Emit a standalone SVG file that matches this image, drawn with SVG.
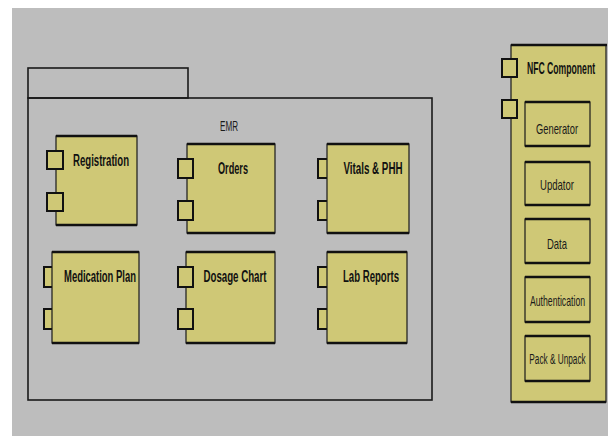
<svg xmlns="http://www.w3.org/2000/svg" width="608" height="436" viewBox="0 0 608 436">
<style>
.bg{fill:#bdbdbd}
.pkg{fill:none;stroke:#1a1a1a;stroke-width:1.6}
.box{fill:#cfc876;stroke:#1a1a1a;stroke-width:1.2}
.edge{stroke:#111;stroke-width:2.6;fill:none}
.port{fill:#cfc876;stroke:#111;stroke-width:2}
.lbl{font-family:"Liberation Sans",Arial,sans-serif;font-size:16px;font-weight:bold;fill:#111;text-anchor:middle}
.ilbl{font-family:"Liberation Sans",Arial,sans-serif;font-size:15px;fill:#1a1a1a;text-anchor:middle}
</style>
<rect x="0" y="0" width="608" height="436" fill="#ffffff"/>
<rect class="bg" x="12" y="8" width="596" height="428"/>

<g id="emr">
  <rect class="pkg" x="28" y="68" width="160" height="30"/>
  <rect class="pkg" x="28" y="98" width="404" height="302"/>
  <text class="ilbl" x="229" y="131" textLength="18" lengthAdjust="spacingAndGlyphs">EMR</text>
</g>

<g id="registration">
  <rect class="box" x="56" y="136" width="81" height="89"/>
  <line class="edge" x1="56" y1="136" x2="137" y2="136"/>
  <line class="edge" x1="56" y1="225" x2="137" y2="225"/>
  <rect class="port" x="47" y="151" width="16" height="18"/>
  <rect class="port" x="47" y="193" width="16" height="18"/>
  <text class="lbl" x="101" y="166" textLength="56" lengthAdjust="spacingAndGlyphs">Registration</text>
</g>

<g id="orders">
  <rect class="box" x="187" y="144" width="88" height="89"/>
  <line class="edge" x1="187" y1="144" x2="275" y2="144"/>
  <line class="edge" x1="187" y1="233" x2="275" y2="233"/>
  <rect class="port" x="178" y="159" width="15" height="19"/>
  <rect class="port" x="178" y="201" width="15" height="19"/>
  <text class="lbl" x="233" y="174" textLength="30" lengthAdjust="spacingAndGlyphs">Orders</text>
</g>

<g id="vitals">
  <rect class="port" x="318" y="159" width="16" height="19"/>
  <rect class="port" x="318" y="201" width="16" height="19"/>
  <rect class="box" x="327" y="144" width="82" height="89"/>
  <line class="edge" x1="327" y1="144" x2="409" y2="144"/>
  <line class="edge" x1="327" y1="233" x2="409" y2="233"/>
  <text class="lbl" x="373" y="174" textLength="59" lengthAdjust="spacingAndGlyphs">Vitals &amp; PHH</text>
</g>

<g id="medication-plan">
  <rect class="port" x="44" y="267" width="15" height="20"/>
  <rect class="port" x="44" y="309" width="15" height="20"/>
  <rect class="box" x="52" y="252" width="87" height="91"/>
  <line class="edge" x1="52" y1="252" x2="139" y2="252"/>
  <line class="edge" x1="52" y1="343" x2="139" y2="343"/>
  <text class="lbl" x="100" y="282" textLength="72" lengthAdjust="spacingAndGlyphs">Medication Plan</text>
</g>

<g id="dosage-chart">
  <rect class="box" x="186" y="252" width="89" height="91"/>
  <line class="edge" x1="186" y1="252" x2="275" y2="252"/>
  <line class="edge" x1="186" y1="343" x2="275" y2="343"/>
  <rect class="port" x="178" y="267" width="15" height="20"/>
  <rect class="port" x="178" y="309" width="15" height="20"/>
  <text class="lbl" x="235" y="282" textLength="63" lengthAdjust="spacingAndGlyphs">Dosage Chart</text>
</g>

<g id="lab-reports">
  <rect class="port" x="318" y="267" width="16" height="20"/>
  <rect class="port" x="318" y="309" width="16" height="20"/>
  <rect class="box" x="327" y="252" width="80" height="91"/>
  <line class="edge" x1="327" y1="252" x2="407" y2="252"/>
  <line class="edge" x1="327" y1="343" x2="407" y2="343"/>
  <text class="lbl" x="371" y="282" textLength="56" lengthAdjust="spacingAndGlyphs">Lab Reports</text>
</g>

<g id="nfc-component">
  <rect class="box" x="511" y="45" width="95" height="357" stroke-width="1.6"/>
  <line class="edge" x1="511" y1="45" x2="607" y2="45" stroke-width="2"/>
  <line class="edge" x1="511" y1="402" x2="606" y2="402" stroke-width="2"/>
  <rect class="port" x="502" y="59" width="15" height="18"/>
  <rect class="port" x="502" y="100" width="15" height="18"/>
  <text class="lbl" transform="translate(561,74) scale(0.54,1)" x="0" y="0">NFC Component</text>
</g>

<g id="generator">
  <rect class="box" x="525" y="102" width="65" height="44"/>
  <line class="edge" x1="525" y1="102" x2="590" y2="102"/>
  <line class="edge" x1="525" y1="146" x2="590" y2="146"/>
  <text class="ilbl" x="557" y="134" textLength="42" lengthAdjust="spacingAndGlyphs">Generator</text>
</g>

<g id="updator">
  <rect class="box" x="525" y="162" width="65" height="43"/>
  <line class="edge" x1="525" y1="162" x2="590" y2="162"/>
  <line class="edge" x1="525" y1="205" x2="590" y2="205"/>
  <text class="ilbl" x="557" y="190" textLength="34" lengthAdjust="spacingAndGlyphs">Updator</text>
</g>

<g id="data">
  <rect class="box" x="525" y="219" width="65" height="44"/>
  <line class="edge" x1="525" y1="219" x2="590" y2="219"/>
  <line class="edge" x1="525" y1="263" x2="590" y2="263"/>
  <text class="ilbl" x="557" y="249" textLength="20" lengthAdjust="spacingAndGlyphs">Data</text>
</g>

<g id="authentication">
  <rect class="box" x="525" y="277" width="65" height="45"/>
  <line class="edge" x1="525" y1="277" x2="590" y2="277"/>
  <line class="edge" x1="525" y1="322" x2="590" y2="322"/>
  <text class="ilbl" transform="translate(557.5,306) scale(0.58,1)" x="0" y="0">Authentication</text>
</g>

<g id="pack-unpack">
  <rect class="box" x="525" y="336" width="65" height="45"/>
  <line class="edge" x1="525" y1="336" x2="590" y2="336"/>
  <line class="edge" x1="525" y1="381" x2="590" y2="381"/>
  <text class="ilbl" transform="translate(557.5,364) scale(0.55,1)" x="0" y="0">Pack &amp; Unpack</text>
</g>
</svg>
